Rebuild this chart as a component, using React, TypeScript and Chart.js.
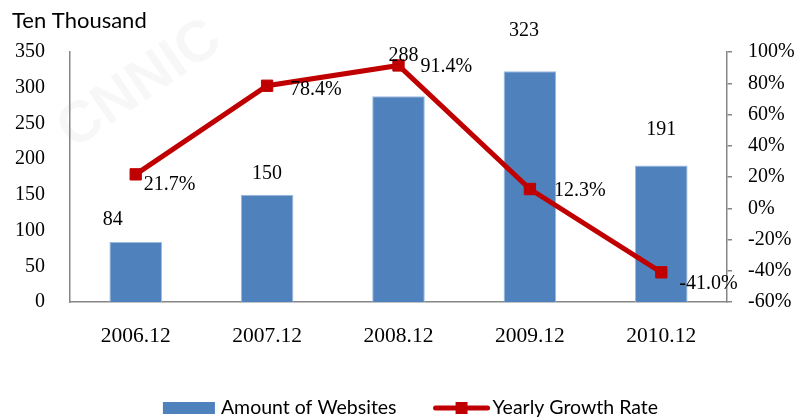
import React, { useEffect, useRef } from 'react';
import { Chart, registerables } from 'chart.js';

Chart.register(...registerables);

// ---- data ----
const categories = ['2006.12', '2007.12', '2008.12', '2009.12', '2010.12'];
const websites = [84, 150, 288, 323, 191];
const growthRate = [21.7, 78.4, 91.4, 12.3, -41.0];
const growthLabels = ['21.7%', '78.4%', '91.4%', '12.3%', '-41.0%'];
const leftAxis = { min: 0, max: 350, step: 50 };
const rightAxis = { min: -60, max: 100, step: 20 };
const unitLabel = 'Ten Thousand';
const seriesNames = ['Amount of Websites', 'Yearly Growth Rate'];

// ---- label placement (pixel nudges from each mark) ----
const barLabelNudge = [[-23, -22], [0, -21], [5, -41], [-6, -41], [0, -36]];
const lineLabelNudge = [[8, 10], [23, 4], [22, 1], [24, 2], [18, 11]];

const BAR_COLOR = '#4F81BD';
const LINE_COLOR = '#C00000';
const AXIS_COLOR = '#868686';
const SERIF = "'Liberation Serif', 'Times New Roman', serif";
const SANS = "Lato, 'Liberation Sans', sans-serif";

Chart.defaults.font.family = SERIF;
Chart.defaults.color = '#000';

const decorPlugin = {
  id: 'decor',
  beforeDraw(chart: any) {
    const ctx = chart.ctx;
    ctx.save();
    ctx.fillStyle = 'rgba(0,0,0,0.03)';
    ctx.font = 'bold 58px "Liberation Sans", sans-serif';
    ctx.textAlign = 'center';
    ctx.textBaseline = 'middle';
    ctx.translate(140, 85);
    ctx.rotate(-0.6);
    ctx.fillText('CNNIC', 0, 0);
    ctx.restore();
  },
  afterDatasetsDraw(chart: any) {
    const ctx = chart.ctx;
    ctx.save();
    ctx.font = '20px ' + SERIF;
    ctx.fillStyle = '#000';
    ctx.textBaseline = 'middle';
    const barMeta = chart.getDatasetMeta(1);
    barMeta.data.forEach((el: any, i: number) => {
      ctx.textAlign = 'center';
      ctx.fillText(String(websites[i]), el.x + barLabelNudge[i][0], el.y + barLabelNudge[i][1]);
    });
    const lineMeta = chart.getDatasetMeta(0);
    lineMeta.data.forEach((el: any, i: number) => {
      ctx.textAlign = 'left';
      ctx.fillText(growthLabels[i], el.x + lineLabelNudge[i][0], el.y + lineLabelNudge[i][1]);
    });
    ctx.restore();
  },
  afterDraw(chart: any) {
    const ctx = chart.ctx;
    ctx.save();
    // unit label
    ctx.font = '22px ' + SANS;
    ctx.fillStyle = '#000';
    ctx.textAlign = 'left';
    ctx.textBaseline = 'middle';
    ctx.fillText(unitLabel, 12, 21);

    // legend
    ctx.font = '19.5px ' + SANS;
    const w1 = ctx.measureText(seriesNames[0]).width;
    const w2 = ctx.measureText(seriesNames[1]).width;
    const total = 52 + 6 + w1 + 37 + 56 + 3 + w2;
    const ca = chart.chartArea;
    let x = (ca.left + ca.right) / 2 + 12 - total / 2;
    const y = chart.height - 10;
    ctx.fillStyle = BAR_COLOR;
    ctx.fillRect(x, y - 6, 52, 12);
    x += 58;
    ctx.fillStyle = '#000';
    ctx.fillText(seriesNames[0], x, y);
    x += w1 + 37;
    ctx.strokeStyle = LINE_COLOR;
    ctx.lineWidth = 5;
    ctx.lineCap = 'round';
    ctx.beginPath();
    ctx.moveTo(x + 2, y);
    ctx.lineTo(x + 54, y);
    ctx.stroke();
    ctx.fillStyle = LINE_COLOR;
    ctx.fillRect(x + 22, y - 6, 12, 12);
    x += 59;
    ctx.fillStyle = '#000';
    ctx.fillText(seriesNames[1], x, y);
    ctx.restore();
  },
};

export default function App() {
  const canvasRef = useRef<HTMLCanvasElement | null>(null);

  useEffect(() => {
    const canvas = canvasRef.current;
    if (!canvas) return;
    const chart = new Chart(canvas, {
      type: 'bar',
      data: {
        labels: categories,
        datasets: [
          {
            type: 'line',
            label: seriesNames[1],
            data: growthRate,
            yAxisID: 'y1',
            order: 0,
            borderColor: LINE_COLOR,
            backgroundColor: LINE_COLOR,
            borderWidth: 5,
            pointStyle: 'rect',
            pointRadius: 8,
            pointBorderWidth: 1,
            pointBackgroundColor: LINE_COLOR,
            pointBorderColor: LINE_COLOR,
            tension: 0,
          } as any,
          {
            type: 'bar',
            label: seriesNames[0],
            data: websites,
            yAxisID: 'y',
            order: 1,
            backgroundColor: BAR_COLOR,
            borderColor: '#9bb9dd',
            borderWidth: 1,
            categoryPercentage: 1,
            barPercentage: 0.4,
          } as any,
        ],
      },
      options: {
        responsive: false,
        animation: false,
        layout: { padding: { top: 52, left: 0, right: 0, bottom: 0 } },
        plugins: {
          legend: { display: false },
          tooltip: { enabled: false },
          title: { display: false },
        },
        scales: {
          x: {
            grid: { display: false },
            border: { display: true, color: AXIS_COLOR, width: 1.5 },
            ticks: { color: '#000', font: { family: SERIF, size: 21.5 }, padding: 13, maxRotation: 0 },
            afterFit(scale: any) { scale.height = 116; },
          },
          y: {
            position: 'left',
            min: leftAxis.min,
            max: leftAxis.max,
            grid: { display: false },
            border: { display: true, color: AXIS_COLOR, width: 1.5 },
            ticks: { stepSize: leftAxis.step, color: '#000', font: { family: SERIF, size: 20 }, padding: 17 },
            afterFit(scale: any) { scale.width = 70; },
          },
          y1: {
            position: 'right',
            min: rightAxis.min,
            max: rightAxis.max,
            grid: { display: true, drawOnChartArea: false, drawTicks: true, tickLength: 5, color: AXIS_COLOR, lineWidth: 1.5 },
            border: { display: true, color: AXIS_COLOR, width: 1.5 },
            ticks: {
              stepSize: rightAxis.step,
              color: '#000',
              font: { family: SERIF, size: 20 },
              padding: 16,
              callback: (v: any) => v + '%',
            },
            afterFit(scale: any) { scale.width = 69; },
          },
        },
      },
      plugins: [decorPlugin],
    });
    return () => chart.destroy();
  }, []);

  return (
    <div style={{ position: 'fixed', left: 0, top: 0, width: 796, height: 418, background: '#fff' }}>
      <canvas ref={canvasRef} width={796} height={418} style={{ width: 796, height: 418, display: 'block' }} />
    </div>
  );
}
